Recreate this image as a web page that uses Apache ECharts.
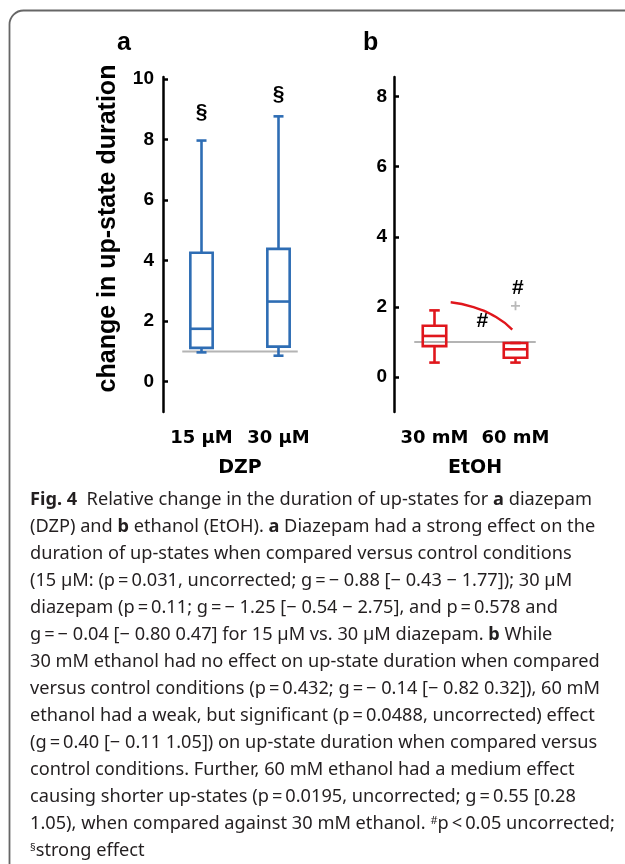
<!DOCTYPE html>
<html>
<head>
<meta charset="utf-8">
<script src="https://cdn.jsdelivr.net/npm/echarts@6/dist/echarts.min.js"></script>
<style>
  html, body { margin: 0; padding: 0; background: #fff; }
  #chart { width: 625px; height: 864px; }
</style>
</head>
<body>
<div id="chart"></div>
<script>
// panel a: diazepam, box = [x, low whisker, q1, median, q3, high whisker]
var dzpLabels = ['15 µM', '30 µM'];
var dzpBoxes = [
  [1, 0.97, 1.12, 1.75, 4.26, 7.97],
  [2, 0.86, 1.16, 2.65, 4.39, 8.77]
];
var dzpMarks = [[1, 8.9], [2, 9.5]];   // § strong effect
var dzpTicks = [0, 2, 4, 6, 8, 10];

// panel b: ethanol
var etohLabels = ['30 mM', '60 mM'];
var etohBoxes = [
  [1, 0.41, 0.88, 1.17, 1.46, 1.90],
  [2, 0.41, 0.55, 0.79, 0.97, 0.97]
];
var etohOutliers = [[2, 2.03]];
var etohCurve = [[1.20, 2.13], [1.47, 2.0], [1.76, 1.71], [1.96, 1.35]];
var etohMarks = [[1.59, 1.6], [2.03, 2.53]];   // # p<0.05
var etohTicks = [0, 2, 4, 6, 8];

// control level line
var controlLine = [[0.75, 1], [2.25, 1]];

var caption = [
  '{b|Fig. 4}  Relative change in the duration of up-states for {b|a} diazepam',
  '(DZP) and {b|b} ethanol (EtOH). {b|a} Diazepam had a strong effect on the',
  'duration of up-states when compared versus control conditions',
  '(15 µM: (p\u2009=\u20090.031, uncorrected; g\u2009=\u2009\u2212 0.88 [\u2212 0.43 \u2212 1.77]); 30 µM',
  'diazepam (p\u2009=\u20090.11; g\u2009=\u2009\u2212 1.25 [\u2212 0.54 \u2212 2.75], and p\u2009=\u20090.578 and',
  'g\u2009=\u2009\u2212 0.04 [\u2212 0.80 0.47] for 15 µM vs. 30 µM diazepam. {b|b} While',
  '30 mM ethanol had no effect on up-state duration when compared',
  'versus control conditions (p\u2009=\u20090.432; g\u2009=\u2009\u2212 0.14 [\u2212 0.82 0.32]), 60 mM',
  'ethanol had a weak, but significant (p\u2009=\u20090.0488, uncorrected) effect',
  '(g\u2009=\u20090.40 [\u2212 0.11 1.05]) on up-state duration when compared versus',
  'control conditions. Further, 60 mM ethanol had a medium effect',
  'causing shorter up-states (p\u2009=\u20090.0195, uncorrected; g\u2009=\u20090.55 [0.28',
  '1.05), when compared against 30 mM ethanol. {sup|#}p\u2009<\u20090.05 uncorrected;',
  '{sup|§}strong effect'
];
// right end of the first caption lines in the reference (px), used to set the squeeze
var captionEnds = [589, 592, 567, 583];

var BLUE = '#2e6db4', RED = '#e0161c', GREY = '#b4b4b4';
var numFont = '"Liberation Sans", Arial, sans-serif';
var catFont = '"DejaVu Sans", Verdana, sans-serif';
var capFont = '"Noto Sans", sans-serif';
var capSize = 18;

// measure caption lines so they can be squeezed to the reference width
var ctx = document.createElement('canvas').getContext('2d');
function measure(str) {
  var w = 0;
  str.replace(/\{(\w+)\|([^}]*)\}|([^{]+)/g, function (m, tag, inner, plain) {
    if (plain) { ctx.font = capSize + 'px ' + capFont; w += ctx.measureText(plain).width; }
    else if (tag === 'b') { ctx.font = 'bold ' + capSize + 'px ' + capFont; w += ctx.measureText(inner).width; }
    else { ctx.font = '11px ' + capFont; w += ctx.measureText(inner).width; }
    return m;
  });
  return w;
}
var sumT = 0, sumM = 0;
for (var i = 0; i < captionEnds.length; i++) {
  sumT += captionEnds[i] - 30;
  sumM += measure(caption[i]);
}
var capScale = sumT / sumM;

function boxItem(color) {
  return function (params, api) {
    var x = api.value(0);
    var band = api.size([1, 0])[0];
    var bw = band * 0.29, cw = band * 0.13;
    var pLow = api.coord([x, api.value(1)]);
    var pQ1 = api.coord([x, api.value(2)]);
    var pMed = api.coord([x, api.value(3)]);
    var pQ3 = api.coord([x, api.value(4)]);
    var pHigh = api.coord([x, api.value(5)]);
    var cx = pMed[0];
    var st = { stroke: color, lineWidth: 2.6, fill: null };
    return {
      type: 'group',
      children: [
        { type: 'line', shape: { x1: cx, y1: pHigh[1], x2: cx, y2: pQ3[1] }, style: st },
        { type: 'line', shape: { x1: cx, y1: pQ1[1], x2: cx, y2: pLow[1] }, style: st },
        { type: 'line', shape: { x1: cx - cw / 2, y1: pHigh[1], x2: cx + cw / 2, y2: pHigh[1] }, style: st },
        { type: 'line', shape: { x1: cx - cw / 2, y1: pLow[1], x2: cx + cw / 2, y2: pLow[1] }, style: st },
        { type: 'rect', shape: { x: cx - bw / 2, y: pQ3[1], width: bw, height: pQ1[1] - pQ3[1] }, style: st },
        { type: 'line', shape: { x1: cx - bw / 2, y1: pMed[1], x2: cx + bw / 2, y2: pMed[1] }, style: st }
      ]
    };
  };
}

function markItem(txt) {
  return function (params, api) {
    var p = api.coord([api.value(0), api.value(1)]);
    return {
      type: 'text', x: p[0], y: p[1],
      style: { text: txt, fontFamily: numFont, fontWeight: 'bold', fontSize: 21, fill: '#000', align: 'center', verticalAlign: 'middle' }
    };
  };
}

function xAxisOf(idx, labels, name) {
  return {
    type: 'value', gridIndex: idx, min: 0.5, max: 2.5,
    axisLine: { show: false }, axisTick: { show: false }, splitLine: { show: false },
    axisLabel: {
      customValues: [1, 2], margin: 17,
      fontFamily: catFont, fontWeight: 'bold', fontSize: 18, color: '#000',
      formatter: function (v) { return labels[Math.round(v) - 1]; }
    },
    name: name, nameLocation: 'middle', nameGap: 47,
    nameTextStyle: { fontFamily: catFont, fontWeight: 'bold', fontSize: 19, color: '#000' }
  };
}
function yAxisOf(idx, max, ticks, margin) {
  return {
    type: 'value', gridIndex: idx, min: -1, max: max,
    splitLine: { show: false },
    axisLine: { show: true, lineStyle: { color: '#000', width: 2.5 } },
    axisTick: { show: true, inside: true, length: 5, customValues: ticks, lineStyle: { color: '#000', width: 2.5 } },
    axisLabel: { customValues: ticks, margin: margin, fontFamily: numFont, fontWeight: 'bold', fontSize: 19, color: '#000' }
  };
}

var yA = yAxisOf(0, 10.07, dzpTicks, 9);
yA.name = 'change in up-state duration';
yA.nameLocation = 'middle';
yA.nameGap = 42;
yA.nameTextStyle = { fontFamily: numFont, fontWeight: 'bold', fontSize: 25, color: '#000', padding: [0, 0, 0, 32] };

var graphics = [
  { type: 'rect', shape: { x: 9.5, y: 10.5, width: 700, height: 900, r: 14 },
    style: { fill: null, stroke: '#666', lineWidth: 1.8 }, silent: true },
  { type: 'text', x: 117, y: 43, style: { text: 'a', fontFamily: numFont, fontWeight: 'bold', fontSize: 25, fill: '#000', verticalAlign: 'middle' } },
  { type: 'text', x: 363, y: 43, style: { text: 'b', fontFamily: numFont, fontWeight: 'bold', fontSize: 25, fill: '#000', verticalAlign: 'middle' } }
];
caption.forEach(function (line, k) {
  graphics.push({
    type: 'text', x: 30, y: 500 + 27 * k, scaleX: capScale,
    style: {
      text: line, fontFamily: capFont, fontSize: capSize, fill: '#231f20', verticalAlign: 'middle',
      rich: {
        b: { fontFamily: capFont, fontSize: capSize, fontWeight: 'bold', fill: '#231f20' },
        sup: { fontFamily: capFont, fontSize: 11, fill: '#231f20', verticalAlign: 'top', padding: [0, 0, 6, 0] }
      }
    }
  });
});

var chart = echarts.init(document.getElementById('chart'), null, { renderer: 'canvas' });
chart.setOption({
  animation: false,
  backgroundColor: '#fff',
  grid: [
    { left: 163, top: 77, width: 154, height: 335 },
    { left: 394, top: 77, width: 162, height: 335 }
  ],
  xAxis: [xAxisOf(0, dzpLabels, 'DZP'), xAxisOf(1, etohLabels, 'EtOH')],
  yAxis: [yA, yAxisOf(1, 8.56, etohTicks, 7)],
  graphic: graphics,
  series: [
    { type: 'line', xAxisIndex: 0, yAxisIndex: 0, data: controlLine, symbol: 'none', lineStyle: { color: GREY, width: 2 }, z: 1 },
    { type: 'custom', xAxisIndex: 0, yAxisIndex: 0, data: dzpBoxes, renderItem: boxItem(BLUE), encode: { x: 0, y: [1, 2, 3, 4, 5] }, z: 2 },
    { type: 'custom', xAxisIndex: 0, yAxisIndex: 0, data: dzpMarks, renderItem: markItem('§'), encode: { x: 0, y: 1 } },
    { type: 'line', xAxisIndex: 1, yAxisIndex: 1, data: controlLine, symbol: 'none', lineStyle: { color: GREY, width: 2 }, z: 1 },
    { type: 'custom', xAxisIndex: 1, yAxisIndex: 1, data: etohBoxes, renderItem: boxItem(RED), encode: { x: 0, y: [1, 2, 3, 4, 5] }, z: 2 },
    { type: 'line', xAxisIndex: 1, yAxisIndex: 1, data: etohCurve, smooth: true, symbol: 'none', lineStyle: { color: RED, width: 2.4 } },
    { type: 'scatter', xAxisIndex: 1, yAxisIndex: 1, data: etohOutliers, symbol: 'path://M4,0H6V4H10V6H6V10H4V6H0V4H4Z', symbolSize: 9, itemStyle: { color: '#a8a8a8' } },
    { type: 'custom', xAxisIndex: 1, yAxisIndex: 1, data: etohMarks, renderItem: markItem('#'), encode: { x: 0, y: 1 } }
  ]
});
</script>
</body>
</html>
